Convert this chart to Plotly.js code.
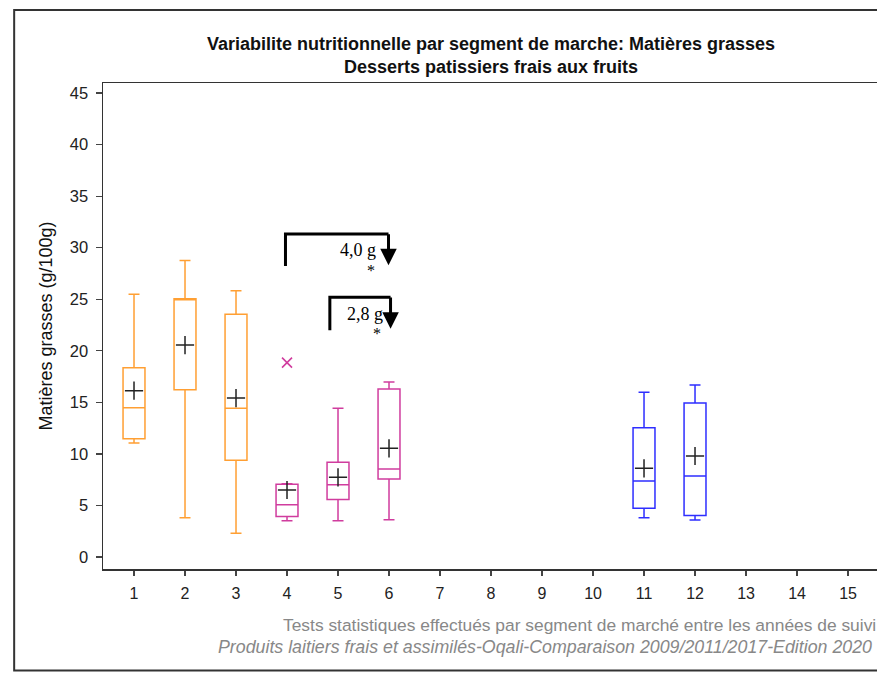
<!DOCTYPE html>
<html>
<head>
<meta charset="utf-8">
<script src="https://cdn.plot.ly/plotly-3.0.1.min.js"></script>
<style>
  html, body { margin: 0; padding: 0; overflow: hidden; background: #fff; }
  #chart { width: 980px; height: 674px; }
</style>
</head>
<body>
<div id="chart"></div>
<script>
// ---- Data ----
const segments   = [1, 2, 3, 4, 5, 6, 11, 12];
const groupColor = ['#FF9F33', '#FF9F33', '#FF9F33', '#D03C9E', '#D03C9E', '#D03C9E', '#2E2EFF', '#2E2EFF'];
const lowerWhisk = [11.06, 3.81, 2.30, 3.52, 3.52, 3.62, 3.81, 3.59];
const q1Values   = [11.47, 16.23, 9.38, 3.94, 5.59, 7.56, 4.72, 4.04];
const medians    = [14.48, 25.00, 14.42, 5.07, 7.01, 8.53, 7.37, 7.86];
const q3Values   = [18.36, 25.05, 23.54, 7.05, 9.18, 16.29, 12.54, 14.94];
const upperWhisk = [25.48, 28.75, 25.83, 7.10, 14.42, 16.97, 15.97, 16.68];
const means      = [16.13, 20.56, 15.42, 6.50, 7.73, 10.54, 8.60, 9.80];
const outlierX   = [4];
const outlierY   = [18.85];
const xTicks     = [1, 2, 3, 4, 5, 6, 7, 8, 9, 10, 11, 12, 13, 14, 15];

// comparisons between years (bracket from segment a to segment b)
const cmpFrom   = [3.97, 4.84];
const cmpTo     = [5.99, 6.03];
const cmpTop    = [31.33, 25.19];
const cmpLeft   = [28.22, 22.0];
const cmpTip    = [28.3, 22.15];
const cmpLabel  = ['4,0 g', '2,8 g'];
const cmpLabelX = [5.40, 5.52];
const cmpLabelY = [29.75, 23.55];
const cmpStarX  = [5.65, 5.76];
const cmpStarY  = [27.75, 21.65];

const FONT = 'Arial, "Liberation Sans", sans-serif';

const traces = [];
segments.forEach((s, i) => {
  traces.push({
    type: 'box',
    x: [s],
    q1: [q1Values[i]],
    median: [medians[i]],
    q3: [q3Values[i]],
    lowerfence: [lowerWhisk[i]],
    upperfence: [upperWhisk[i]],
    width: 0.43,
    whiskerwidth: 0.5,
    boxpoints: false,
    fillcolor: 'rgba(255,255,255,0)',
    line: { color: groupColor[i], width: 1.5 },
    hoverinfo: 'skip',
    showlegend: false
  });
});
traces.push({
  type: 'scatter', mode: 'markers',
  x: segments, y: means,
  marker: { symbol: 'cross-thin-open', size: 13, color: '#222', line: { color: '#222', width: 1.5 } },
  showlegend: false, hoverinfo: 'skip'
});
traces.push({
  type: 'scatter', mode: 'markers',
  x: outlierX, y: outlierY,
  marker: { symbol: 'x-thin-open', size: 10, color: '#D03C9E', line: { color: '#D03C9E', width: 1.6 } },
  showlegend: false, hoverinfo: 'skip'
});

const shapes = [];
const annotations = [];
cmpFrom.forEach((a, i) => {
  shapes.push({
    type: 'path', xref: 'x', yref: 'y',
    path: `M ${a} ${cmpLeft[i]} L ${a} ${cmpTop[i]} L ${cmpTo[i]} ${cmpTop[i]}`,
    line: { color: '#000', width: 3 }
  });
  annotations.push({
    x: cmpTo[i], y: cmpTip[i], ax: cmpTo[i], ay: cmpTop[i] + 0.12,
    xref: 'x', yref: 'y', axref: 'x', ayref: 'y',
    text: '', showarrow: true, arrowhead: 2, arrowsize: 1.1, arrowwidth: 3,
    arrowcolor: '#000', standoff: 0, startstandoff: 0
  });
  annotations.push({
    x: cmpLabelX[i], y: cmpLabelY[i], xref: 'x', yref: 'y',
    text: cmpLabel[i], showarrow: false,
    font: { family: '"Liberation Serif", "DejaVu Serif", serif', size: 18, color: '#000' }
  });
  annotations.push({
    x: cmpStarX[i], y: cmpStarY[i], xref: 'x', yref: 'y',
    text: '*', showarrow: false,
    font: { family: '"Liberation Serif", "DejaVu Serif", serif', size: 16, color: '#000' }
  });
});

// footer
annotations.push({
  xref: 'paper', yref: 'paper', x: 0.2275, y: -0.1152, xanchor: 'left', yanchor: 'middle',
  text: 'Tests statistiques effectués par segment de marché entre les années de suivi',
  showarrow: false, font: { family: FONT, size: 17.4, color: '#888' }
});
annotations.push({
  xref: 'paper', yref: 'paper', x: 0.1445, y: -0.1605, xanchor: 'left', yanchor: 'middle',
  text: '<i>Produits laitiers frais et assimilés-Oqali-Comparaison 2009/2011/2017-Edition 2020</i>',
  showarrow: false, font: { family: FONT, size: 17.8, color: '#888' }
});

// outer frame
shapes.push({
  type: 'rect', xref: 'paper', yref: 'paper',
  x0: -0.1136, x1: 1.2, y0: -0.2088, y1: 1.1502,
  line: { color: '#333', width: 2 }, fillcolor: 'rgba(0,0,0,0)'
});

const layout = {
  width: 980, height: 674, autosize: false,
  margin: { l: 103, r: 95, t: 83, b: 105 },
  paper_bgcolor: '#fff', plot_bgcolor: '#fff',
  font: { family: FONT, color: '#222' },
  title: {
    text: '<b>Variabilite nutritionnelle par segment de marche: Matières grasses</b><br><b>Desserts patissiers frais aux fruits</b>',
    font: { family: FONT, size: 18, color: '#111' },
    xref: 'container', x: 491 / 980, xanchor: 'center',
    yref: 'container', y: 1 - 49.5 / 674, yanchor: 'middle'
  },
  xaxis: {
    range: [0.392, 15.725],
    tickvals: xTicks, ticktext: xTicks.map(String),
    ticks: 'outside', ticklen: 5, tickwidth: 1.2, tickcolor: '#444',
    tickfont: { family: FONT, size: 16, color: '#222' },
    ticklabelstandoff: 4,
    showline: true, linecolor: '#333', linewidth: 1.5, mirror: true,
    showgrid: false, zeroline: false
  },
  yaxis: {
    range: [-1.16, 45.97],
    tick0: 0, dtick: 5,
    ticks: 'outside', ticklen: 6, tickwidth: 1.2, tickcolor: '#444',
    tickfont: { family: FONT, size: 16.5, color: '#222' },
    ticklabelstandoff: 4,
    showline: true, linecolor: '#333', linewidth: 1.5, mirror: true,
    showgrid: false, zeroline: false,
    title: { text: 'Matières grasses (g/100g)', font: { family: FONT, size: 18, color: '#111' }, standoff: 12 }
  },
  shapes: shapes,
  annotations: annotations,
  showlegend: false
};

Plotly.newPlot('chart', traces, layout, { displayModeBar: false, staticPlot: true });
</script>
</body>
</html>
